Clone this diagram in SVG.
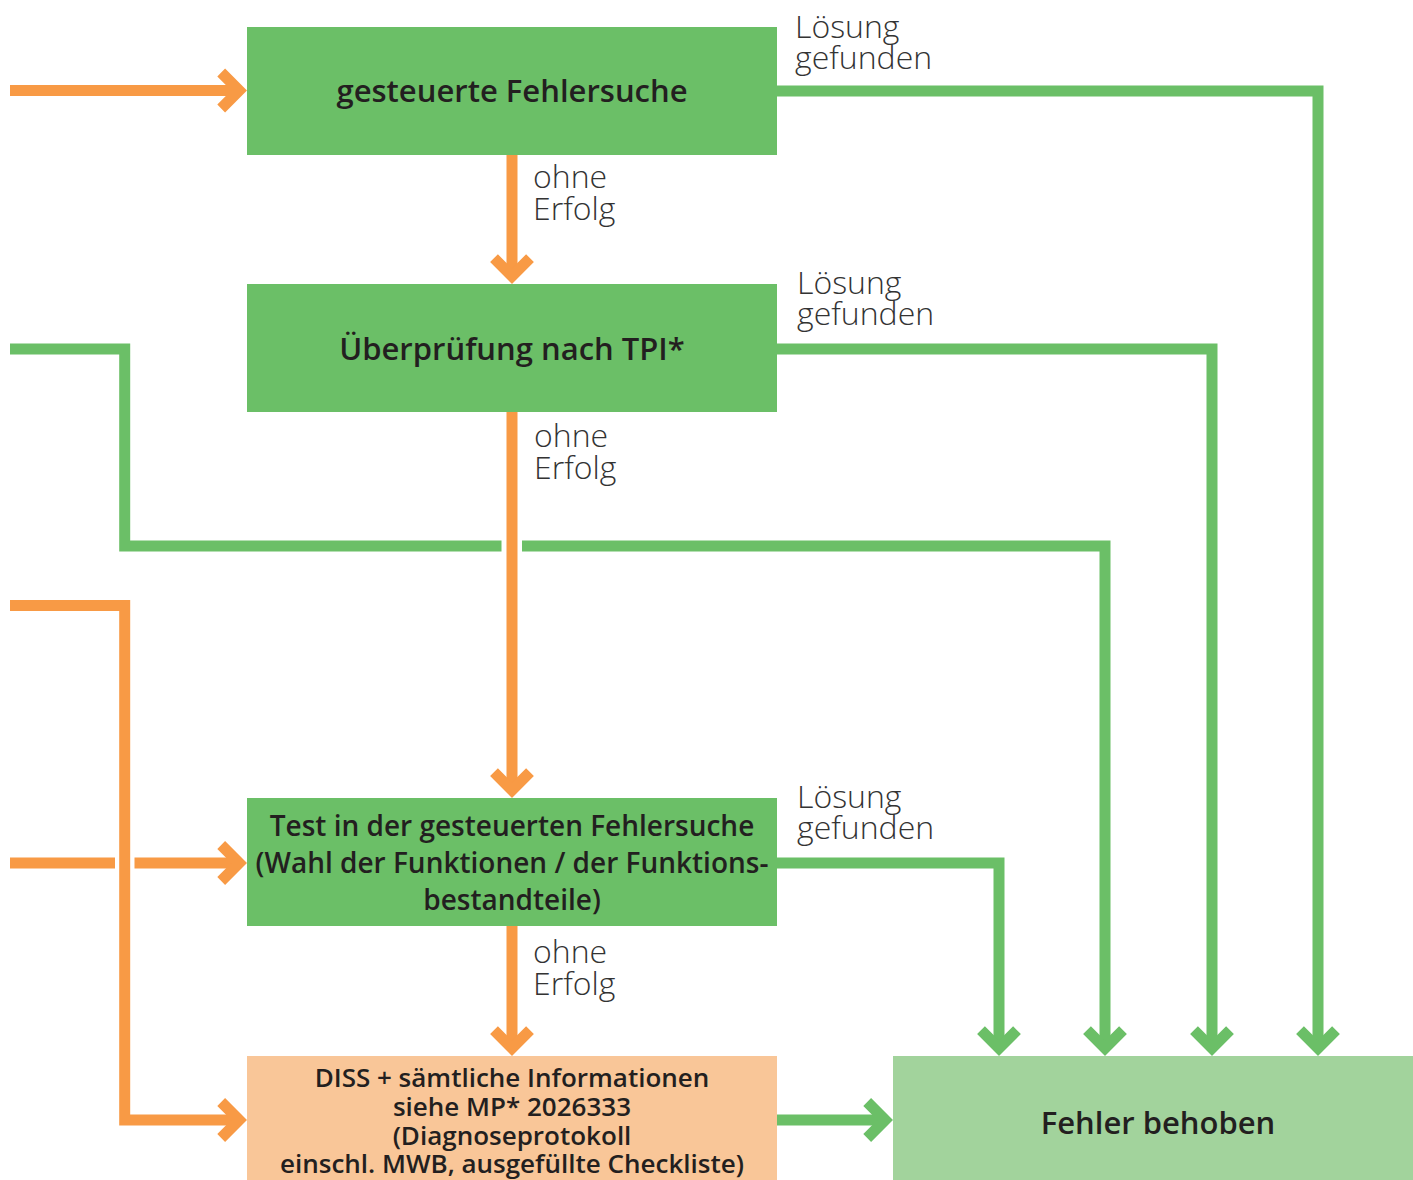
<svg xmlns="http://www.w3.org/2000/svg" width="1413" height="1180" viewBox="0 0 1413 1180">
<style>
.box{fill:#6BBF67}
.box4{fill:#F9C698}
.box5{fill:#A2D39C}
.t{font-family:"Open Sans","Liberation Sans",sans-serif;font-weight:600;fill:#231F20;text-anchor:middle}
.l{font-family:"Open Sans","Liberation Sans",sans-serif;font-weight:300;fill:#333333;font-size:32px}
.o{fill:none;stroke:#F89A45;stroke-width:11;stroke-linejoin:miter}
.g{fill:none;stroke:#6BBF67;stroke-width:11;stroke-linejoin:miter}
</style>
<defs>
<marker id="ao" markerUnits="userSpaceOnUse" markerWidth="60" markerHeight="60" refX="0" refY="0" orient="auto" overflow="visible" viewBox="-30 -30 60 60">
<path d="M-15.8,-18 L2.2,0 L-15.8,18" fill="none" stroke="#F89A45" stroke-width="11" stroke-linejoin="miter"/>
</marker>
<marker id="ag" markerUnits="userSpaceOnUse" markerWidth="60" markerHeight="60" refX="0" refY="0" orient="auto" overflow="visible" viewBox="-30 -30 60 60">
<path d="M-15.8,-18 L2.2,0 L-15.8,18" fill="none" stroke="#6BBF67" stroke-width="11" stroke-linejoin="miter"/>
</marker>
</defs>
<rect width="1413" height="1180" fill="#FFFFFF"/>
<g id="connectors">
<path class="o" d="M10,90.5 H237" marker-end="url(#ao)"/>
<path class="o" d="M512,155 V274" marker-end="url(#ao)"/>
<path class="o" d="M512,412 V788" marker-end="url(#ao)"/>
<path class="o" d="M512,926 V1046" marker-end="url(#ao)"/>
<path class="o" d="M10,605.5 H124.7 V1120 H237" marker-end="url(#ao)"/>
<path class="o" d="M10,863 H115"/>
<path class="o" d="M134.5,863 H237" marker-end="url(#ao)"/>
<path class="g" d="M777,91 H1318 V1046" marker-end="url(#ag)"/>
<path class="g" d="M777,349 H1212 V1046" marker-end="url(#ag)"/>
<path class="g" d="M777,863 H999 V1046" marker-end="url(#ag)"/>
<path class="g" d="M10,349 H124.7 V546 H501.5"/>
<path class="g" d="M522,546 H1105 V1046" marker-end="url(#ag)"/>
<path class="g" d="M777,1120 H883" marker-end="url(#ag)"/>
</g>
<g id="labels">
<text class="l" x="795" y="38">Lösung</text>
<text class="l" x="795" y="69">gefunden</text>
<text class="l" x="797" y="294">Lösung</text>
<text class="l" x="797" y="325">gefunden</text>
<text class="l" x="797" y="808">Lösung</text>
<text class="l" x="797" y="839">gefunden</text>
<text class="l" x="533" y="188">ohne</text>
<text class="l" x="533" y="220">Erfolg</text>
<text class="l" x="534" y="447">ohne</text>
<text class="l" x="534" y="479">Erfolg</text>
<text class="l" x="533" y="963">ohne</text>
<text class="l" x="533" y="995">Erfolg</text>
</g>
<g id="n1">
<rect class="box" x="247" y="27" width="530" height="128"/>
<text class="t" x="512" y="102" font-size="31">gesteuerte Fehlersuche</text>
</g>
<g id="n2">
<rect class="box" x="247" y="284" width="530" height="128"/>
<text class="t" x="512" y="360" font-size="31">Überprüfung nach TPI*</text>
</g>
<g id="n3">
<rect class="box" x="247" y="798" width="530" height="128"/>
<text class="t" font-size="28"><tspan x="512" y="836">Test in der gesteuerten Fehlersuche</tspan><tspan x="512" y="873">(Wahl der Funktionen / der Funktions-</tspan><tspan x="512" y="910">bestandteile)</tspan></text>
</g>
<g id="n4">
<rect class="box4" x="247" y="1056" width="530" height="124"/>
<text class="t" font-size="26"><tspan x="512" y="1087">DISS + sämtliche Informationen</tspan><tspan x="512" y="1116">siehe MP* 2026333</tspan><tspan x="512" y="1145">(Diagnoseprotokoll</tspan><tspan x="512" y="1173">einschl. MWB, ausgefüllte Checkliste)</tspan></text>
</g>
<g id="n5">
<rect class="box5" x="893" y="1056" width="520" height="124"/>
<text class="t" x="1158" y="1134" font-size="31">Fehler behoben</text>
</g>
</svg>
